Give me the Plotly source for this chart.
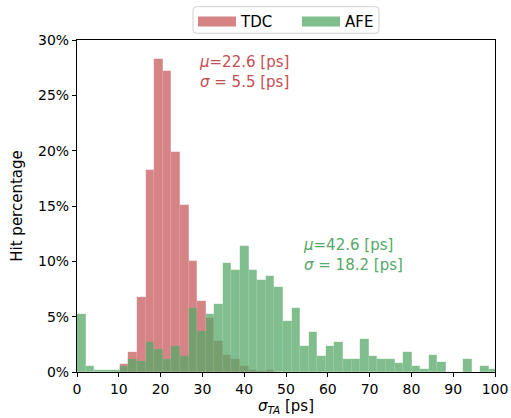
import plotly.graph_objects as go

# ---- data ----
bin_width = 2.053  # ps, shared bin width of both histograms
n_bins = 49
bin_left = [k * bin_width for k in range(n_bins)]

tdc_pct = [0, 0, 0, 0, 0, 0.72, 1.78, 6.82, 18.26, 28.25, 27.2, 19.86, 15.1, 10.05,
           6.4, 4.85, 2.8, 1.54, 1.14, 0.54, 0.18, 0.08, 0.18, 0, 0, 0, 0, 0, 0, 0,
           0, 0, 0, 0, 0, 0, 0, 0, 0, 0, 0, 0, 0, 0, 0, 0, 0, 0, 0]

afe_pct = [5.24, 0.57, 0.2, 0.2, 0.21, 0.5, 1.14, 0.95, 2.68, 2.08, 1.17, 2.38, 1.42,
           5.75, 3.7, 5.2, 6.1, 9.85, 9.25, 11.4, 9.25, 8.34, 8.64, 7.7, 4.6, 5.8,
           2.38, 3.64, 1.48, 2.38, 2.68, 1.14, 1.14, 3.0, 1.48, 1.14, 1.14, 0.85,
           1.8, 0.57, 0.27, 1.5, 0.87, 0, 0, 1.17, 0, 0.57, 0.27]

series_names = ["TDC", "AFE"]
stats_text = {
    "TDC": ("22.6", "5.5"),
    "AFE": ("42.6", "18.2"),
}
y_ticks = [0, 5, 10, 15, 20, 25, 30]
x_ticks = [0, 10, 20, 30, 40, 50, 60, 70, 80, 90, 100]

# ---- styling ----
RED = "rgb(196,78,82)"
GREEN = "rgb(85,168,104)"
RED_FILL = "rgba(196,78,82,0.7)"
GREEN_FILL = "rgba(85,168,104,0.75)"
FONT = "DejaVu Sans"
W, H = 511, 418
ML, MR, MT, MB = 77, 16, 40, 46
PW, PH = W - ML - MR, H - MT - MB

fig = go.Figure()
for name, vals, fill in [("TDC", tdc_pct, RED_FILL), ("AFE", afe_pct, GREEN_FILL)]:
    fig.add_trace(go.Bar(
        x=bin_left, y=vals, width=[bin_width] * n_bins, offset=0,
        marker=dict(color=fill, line=dict(width=0.4, color="rgba(255,255,255,0.15)")),
        name=name, showlegend=False, hoverinfo="skip",
    ))

# legend proxies (wide patches like matplotlib)
for name, fill in [("TDC", RED_FILL), ("AFE", GREEN_FILL)]:
    fig.add_trace(go.Scatter(
        x=[None], y=[None], mode="lines", name=name,
        line=dict(color=fill, width=11), showlegend=True, hoverinfo="skip",
    ))

# statistics annotations
fig.add_annotation(
    x=28.6, y=27.15, xref="x", yref="y", xanchor="left", yanchor="middle", align="left",
    text=f"<i>μ</i>={stats_text['TDC'][0]} [ps]<br><i>σ</i> = {stats_text['TDC'][1]} [ps]",
    showarrow=False, font=dict(family=FONT, size=15, color=RED),
)
fig.add_annotation(
    x=53.6, y=10.6, xref="x", yref="y", xanchor="left", yanchor="middle", align="left",
    text=f"<i>μ</i>={stats_text['AFE'][0]} [ps]<br><i>σ</i> = {stats_text['AFE'][1]} [ps]",
    showarrow=False, font=dict(family=FONT, size=15, color=GREEN),
)

# rounded legend frame (matplotlib style), in paper coordinates
bx0, bx1 = (193 - ML) / PW, (379 - ML) / PW
by0, by1 = (H - MB - 33.3) / PH, (H - MB - 6.7) / PH
rx, ry = 3.5 / PW, 3.5 / PH
frame_path = (
    f"M{bx0 + rx},{by0} L{bx1 - rx},{by0} Q{bx1},{by0} {bx1},{by0 + ry} "
    f"L{bx1},{by1 - ry} Q{bx1},{by1} {bx1 - rx},{by1} "
    f"L{bx0 + rx},{by1} Q{bx0},{by1} {bx0},{by1 - ry} "
    f"L{bx0},{by0 + ry} Q{bx0},{by0} {bx0 + rx},{by0} Z"
)
fig.add_shape(type="path", path=frame_path, xref="paper", yref="paper",
              line=dict(color="#d0d0d0", width=1), fillcolor="rgba(0,0,0,0)")

fig.update_layout(
    width=W, height=H,
    margin=dict(l=ML, r=MR, t=MT, b=MB, autoexpand=False),
    paper_bgcolor="white", plot_bgcolor="white",
    barmode="overlay", bargap=0,
    font=dict(family=FONT, size=15, color="black"),
    legend=dict(
        orientation="h", x=(193 - ML) / PW, xanchor="left", y=1.005, yanchor="bottom",
        bgcolor="rgba(0,0,0,0)", borderwidth=0,
        font=dict(family=FONT, size=15, color="black"),
        itemwidth=38, entrywidth=51, traceorder="normal",
    ),
    xaxis=dict(
        range=[0, 100], tickvals=x_ticks, ticktext=[str(v) for v in x_ticks],
        showline=True, linecolor="black", linewidth=1.2, mirror=True,
        ticks="outside", ticklen=4, tickwidth=1.2, tickcolor="black",
        showgrid=False, zeroline=False, automargin=False,
        tickfont=dict(family=FONT, size=14, color="black"),
        title=dict(text="<i>σ</i><sub><i>TA</i></sub> [ps]", standoff=2,
                   font=dict(family=FONT, size=15, color="black")),
    ),
    yaxis=dict(
        range=[0, 30], tickvals=y_ticks, ticktext=[f"{v}%" for v in y_ticks],
        showline=True, linecolor="black", linewidth=1.2, mirror=True,
        ticks="outside", ticklen=4, tickwidth=1.2, tickcolor="black",
        showgrid=False, zeroline=False, automargin=False,
        tickfont=dict(family=FONT, size=14, color="black"),
        title=dict(text="Hit percentage", standoff=11,
                   font=dict(family=FONT, size=15, color="black")),
    ),
)

# remove the browser's default 8px page margin so the figure sits at the top-left corner
fig.write_html("out.html", config={"displayModeBar": False},
               post_script="document.body.style.margin='0';")
